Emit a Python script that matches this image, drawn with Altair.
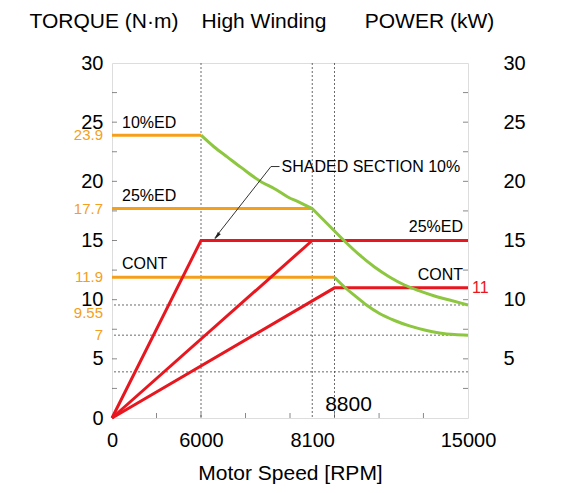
import altair as alt
import pandas as pd

# ---------------- data ----------------
# schematic (piecewise) speed axis: break speeds and their position in tick intervals
X_BREAKS = [0, 6000, 8100, 8800, 15000]
X_BREAK_UNITS = [0, 2, 4.5, 5, 8]
X_LABELS = [0, 6000, 8100, 15000]
X_TICKS = [3000, 6000, 6840, 7680, 8800, 10870, 12930]
Y_TICKS = [2.5, 5, 7.5, 10, 12.5, 15, 17.5, 20, 22.5, 25, 27.5]
Y_LABELS_LEFT = [0, 5, 10, 15, 20, 25, 30]
Y_LABELS_RIGHT = [5, 10, 15, 20, 25, 30]

GRID_Y = [9.55, 7, 3.9]
GRID_X = [6000, 8100, 8800]

# torque (orange) plateaus
T_SERIES = ["10%ED", "10%ED", "25%ED", "25%ED", "CONT", "CONT"]
T_SPEED = [0, 6000, 0, 8100, 0, 8800]
T_TORQUE = [23.9, 23.9, 17.7, 17.7, 11.9, 11.9]

# torque fall-off (green) curves
G1A_SPEED = [6000, 6250, 6500, 6750, 7140, 7380, 7630, 7870, 8100]
G1A_TORQUE = [23.9, 22.9, 22.05, 21.2, 19.95, 19.4, 18.7, 18.2, 17.7]
G1B_SPEED = [8100, 8644, 9264, 9961, 10658, 11354, 12051, 12747, 13444, 14141, 15000]
G1B_TORQUE = [17.7, 16.23, 14.96, 13.78, 12.76, 11.92, 11.24, 10.74, 10.31, 9.97, 9.55]
G2_SPEED = [8800, 9264, 9729, 10286, 10890, 11587, 12283, 12980, 13676, 14373, 15000]
G2_TORQUE = [11.9, 11.07, 10.36, 9.55, 8.83, 8.24, 7.78, 7.44, 7.19, 7.05, 7.0]

# power (red) lines
P_SERIES = ["10%", "10%", "10%", "25%", "25%", "CONT", "CONT", "CONT"]
P_SPEED = [0, 6000, 15000, 0, 8100, 0, 8800, 15000]
P_POWER = [0, 15, 15, 0, 15, 0, 11, 11]

TORQUE_VALUE_LABELS = [23.9, 17.7, 11.9, 9.55, 7]
TORQUE_VALUE_LABEL_Y = [23.9, 17.7, 11.9, 8.85, 7.0]
POWER_VALUE_LABEL = 11

SERIES_TEXT = ["10%ED", "25%ED", "CONT"]
SERIES_TEXT_X = [674, 674, 674]
SERIES_TEXT_Y = [24.9, 18.8, 13.0]
RIGHT_TEXT = ["25%ED", "CONT"]
RIGHT_TEXT_X = [14768, 14768]
RIGHT_TEXT_Y = [16.1, 12.1]
SPEED_NOTE = "8800"
SPEED_NOTE_X = 9450
SPEED_NOTE_Y = 1.1

ANNOT_TEXT = "SHADED SECTION 10%"
ANNOT_X = 7520
ANNOT_Y = 21.25
LEADER_X = [7482, 7321, 6260]
LEADER_Y = [21.25, 21.25, 15.2]
ARROW_X = 6300
ARROW_Y = 15.35

ORANGE = "#F5A01A"
RED = "#E8161E"
GREEN = "#8DC63F"
GRIDC = "#444444"
FONT = "Liberation Sans"

W, H = 356, 355
unit = W / 8
xscale = alt.Scale(domain=X_BREAKS, range=[u * unit for u in X_BREAK_UNITS], nice=False, zero=False)
yscale = alt.Scale(domain=[0, 30], nice=False, zero=False)
xaxis = alt.Axis(
    orient="bottom", values=X_LABELS, ticks=False, tickSize=0, domain=False, grid=False, format="d",
    labelFontSize=20, labelPadding=12, labelColor="black", labelFlush=False, labelOverlap=False,
    title="Motor Speed [RPM]", titleFontSize=21, titleFontWeight="normal", titlePadding=12,
    titleColor="black", labelFont=FONT, titleFont=FONT)


def X(field):
    return alt.X(field, type="quantitative", scale=xscale, axis=xaxis)


def Y(field):
    return alt.Y(field, type="quantitative", scale=yscale, axis=None)


# ---------------- layers ----------------
grid_h = alt.Chart(pd.DataFrame({"y": GRID_Y})).mark_rule(
    color=GRIDC, strokeDash=[2, 2], strokeWidth=0.8
).encode(y=Y("y"))

grid_v = alt.Chart(pd.DataFrame({"x": GRID_X})).mark_rule(
    color=GRIDC, strokeDash=[2, 2], strokeWidth=0.8
).encode(x=X("x"))

# axis carriers
left_axis = alt.Chart(pd.DataFrame({"y": Y_LABELS_LEFT, "x": [0] * len(Y_LABELS_LEFT)})).mark_point(opacity=0).encode(
    y=alt.Y("y:Q", scale=yscale, axis=alt.Axis(
        orient="left", values=Y_LABELS_LEFT, ticks=False, tickSize=0, domain=False, grid=False,
        labelFontSize=20, labelPadding=9, labelColor="black", title=None, labelFont=FONT)),
    x=X("x"),
)

right_axis = alt.Chart(pd.DataFrame({"y": Y_LABELS_RIGHT, "x": [0] * len(Y_LABELS_RIGHT)})).mark_point(opacity=0).encode(
    y=alt.Y("y:Q", scale=yscale, axis=alt.Axis(
        orient="right", values=Y_LABELS_RIGHT, ticks=False, tickSize=0, domain=False, grid=False,
        labelFontSize=20, labelPadding=35, labelColor="black", title=None, labelFont=FONT)),
    x=X("x"),
)

tick_left = alt.Chart(pd.DataFrame({"y": Y_TICKS, "x": [0] * len(Y_TICKS)})).mark_tick(
    orient="horizontal", size=10, thickness=1, color="#555", clip=True
).encode(x=X("x"), y=Y("y"))
tick_right = alt.Chart(pd.DataFrame({"y": Y_TICKS, "x": [15000] * len(Y_TICKS)})).mark_tick(
    orient="horizontal", size=10, thickness=1, color="#555", clip=True
).encode(x=X("x"), y=Y("y"))
tick_bottom = alt.Chart(pd.DataFrame({"x": X_TICKS, "y": [0] * len(X_TICKS)})).mark_tick(
    orient="vertical", size=10, thickness=1, color="#555", clip=True
).encode(x=X("x"), y=Y("y"))

torque = alt.Chart(pd.DataFrame({"s": T_SERIES, "x": T_SPEED, "y": T_TORQUE})).mark_line(
    color=ORANGE, strokeWidth=3
).encode(x=X("x"), y=Y("y"), detail="s:N")

power = alt.Chart(pd.DataFrame({"s": P_SERIES, "x": P_SPEED, "y": P_POWER})).mark_line(
    color=RED, strokeWidth=3
).encode(x=X("x"), y=Y("y"), detail="s:N")

green_df = pd.DataFrame({
    "s": ["A"] * len(G1A_SPEED) + ["B"] * len(G1B_SPEED) + ["C"] * len(G2_SPEED),
    "x": G1A_SPEED + G1B_SPEED + G2_SPEED,
    "y": G1A_TORQUE + G1B_TORQUE + G2_TORQUE,
})
green = alt.Chart(green_df).mark_line(color=GREEN, strokeWidth=3, interpolate="monotone").encode(
    x=X("x"), y=Y("y"), detail="s:N")

left_text = alt.Chart(pd.DataFrame({"t": SERIES_TEXT, "x": SERIES_TEXT_X, "y": SERIES_TEXT_Y})).mark_text(
    align="left", baseline="middle", fontSize=16, font=FONT, color="black"
).encode(x=X("x"), y=Y("y"), text="t:N")

right_text = alt.Chart(pd.DataFrame({"t": RIGHT_TEXT, "x": RIGHT_TEXT_X, "y": RIGHT_TEXT_Y})).mark_text(
    align="right", baseline="middle", fontSize=16, font=FONT, color="black"
).encode(x=X("x"), y=Y("y"), text="t:N")

note = alt.Chart(pd.DataFrame({"t": [SPEED_NOTE], "x": [SPEED_NOTE_X], "y": [SPEED_NOTE_Y]})).mark_text(
    align="center", baseline="middle", fontSize=21, font=FONT, color="black"
).encode(x=X("x"), y=Y("y"), text="t:N")

orange_labels = alt.Chart(pd.DataFrame({
    "v": [f"{v:g}" for v in TORQUE_VALUE_LABELS],
    "y": TORQUE_VALUE_LABEL_Y,
    "x": [0] * len(TORQUE_VALUE_LABELS)})).mark_text(
    align="right", baseline="middle", fontSize=15, font=FONT, color=ORANGE, dx=-9
).encode(x=X("x"), y=Y("y"), text="v:N")

red_label = alt.Chart(pd.DataFrame({"v": [str(POWER_VALUE_LABEL)], "y": [POWER_VALUE_LABEL], "x": [15000]})).mark_text(
    align="left", baseline="middle", fontSize=16, font=FONT, color=RED, dx=4
).encode(x=X("x"), y=Y("y"), text="v:N")

annot = alt.Chart(pd.DataFrame({"t": [ANNOT_TEXT], "x": [ANNOT_X], "y": [ANNOT_Y]})).mark_text(
    align="left", baseline="middle", fontSize=16, font=FONT, color="black"
).encode(x=X("x"), y=Y("y"), text="t:N")

leader = alt.Chart(pd.DataFrame({"i": [0, 1, 2], "x": LEADER_X, "y": LEADER_Y})).mark_line(
    color="#333", strokeWidth=1
).encode(x=X("x"), y=Y("y"), order="i:Q")

arrow = alt.Chart(pd.DataFrame({"x": [ARROW_X], "y": [ARROW_Y]})).mark_point(
    shape="M0,-1L0.45,1L-0.45,1Z", filled=True, color="#222", size=64, angle=217, opacity=1
).encode(x=X("x"), y=Y("y"))

headers = [
    alt.Chart(pd.DataFrame({"t": ["TORQUE (N·m)"]})).mark_text(
        fontSize=21, font=FONT, color="black", align="center", baseline="middle"
    ).encode(text="t:N", x=alt.value(-8), y=alt.value(-41)),
    alt.Chart(pd.DataFrame({"t": ["High Winding"]})).mark_text(
        fontSize=21, font=FONT, color="black", align="center", baseline="middle"
    ).encode(text="t:N", x=alt.value(152), y=alt.value(-41)),
    alt.Chart(pd.DataFrame({"t": ["POWER (kW)"]})).mark_text(
        fontSize=21, font=FONT, color="black", align="center", baseline="middle"
    ).encode(text="t:N", x=alt.value(317.5), y=alt.value(-41)),
]

chart = alt.layer(
    left_axis, right_axis, grid_h, grid_v, tick_left, tick_right, tick_bottom,
    torque, power, green, leader, arrow,
    left_text, right_text, note, orange_labels, red_label, annot, *headers,
).resolve_scale(y="independent").properties(
    width=W, height=H,
    autosize=alt.AutoSizeParams(type="none"),
    padding={"left": 104, "top": 55, "right": 93, "bottom": 67},
).configure_view(stroke="#666", strokeWidth=1).configure(font=FONT)

chart.save("out.html", embed_options={"renderer": "svg", "actions": False})
